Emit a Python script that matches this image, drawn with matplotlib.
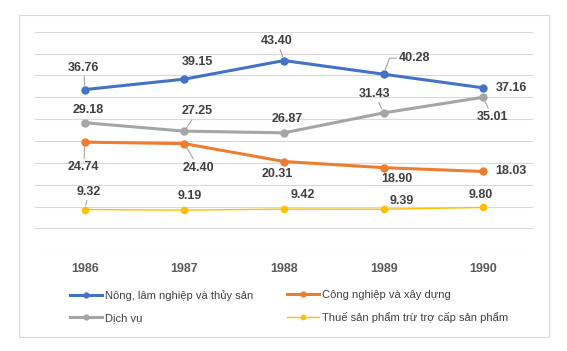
import matplotlib
matplotlib.use("Agg")
import matplotlib.pyplot as plt
from matplotlib.patches import Rectangle

years = ["1986", "1987", "1988", "1989", "1990"]
nong_lam = [36.76, 39.15, 43.40, 40.28, 37.16]
cong_nghiep = [24.74, 24.40, 20.31, 18.90, 18.03]
dich_vu = [29.18, 27.25, 26.87, 31.43, 35.01]
thue = [9.32, 9.19, 9.42, 9.39, 9.80]

names = ["Nông, lâm nghiệp và thủy sản", "Công nghiệp và xây dựng",
         "Dịch vụ", "Thuế sản phẩm trừ trợ cấp sản phẩm"]
colors = ["#4472C4", "#ED7D31", "#A5A5A5", "#FFC000"]

plt.rcParams['font.family'] = ['Liberation Sans', 'DejaVu Sans']

fig = plt.figure(figsize=(5.67, 3.51), dpi=100)
fig.patch.set_facecolor("white")
fig.patches.append(Rectangle((19/567, 1-337/351), (549-19)/567, (337-15)/351,
                             transform=fig.transFigure, fill=False,
                             edgecolor="#D9D9D9", linewidth=0.8))

ax = fig.add_axes([35/567, 100.7/351, 498/567, 218.6/351])
x = list(range(len(years)))

series = [nong_lam, cong_nghiep, dich_vu, thue]
lines = []
for vals, c, nm, i in zip(series, colors, names, range(4)):
    if i == 3:
        ln, = ax.plot(x, vals, color=c, lw=1.0, marker='o', ms=4.5, label=nm, zorder=3)
    else:
        ln, = ax.plot(x, vals, color=c, lw=2.2, marker='o', ms=5, label=nm, zorder=3)
    lines.append(ln)

# label offsets in pixels (dx, dy), leader style (None = no leader)
offsets = [
    [(-1, 22, 'arc3'), (13, 17, None), (-7, 20, 'arc3'),
     (31, 16, 'angle,angleA=0,angleB=70,rad=0'), (28, 0, None)],
    [(-1, -25, 'arc3'), (14, -24, 'arc3'), (-7, -12, None), (13, -11, None), (28, 0, None)],
    [(3, 13, None), (13, 20, 'arc3'), (3, 14, None), (-9, 19, 'arc3'), (9, -20, 'arc3')],
    [(4, 18, 'arc3'), (5, 14, None), (19, 14, None), (18, 8, None), (-2, 12, None)],
]
for vals, offs in zip(series, offsets):
    for xi, v, (dx, dy, lead) in zip(x, vals, offs):
        kw = {}
        if lead:
            kw['arrowprops'] = dict(arrowstyle='-', color='#A6A6A6', lw=0.8,
                                    shrinkA=0, shrinkB=3, connectionstyle=lead)
        ax.annotate(f"{v:.2f}", (xi, v), xytext=(dx, dy), textcoords='offset pixels',
                    ha='center', va='center', fontsize=9, fontweight='bold',
                    color='#404040', zorder=4, **kw)

ax.set_xlim(-0.5, 4.5)
ax.set_ylim(0, 50)
ax.set_yticks(range(0, 51, 5))
ax.set_yticklabels([])
ax.set_xticks(x)
ax.set_xticklabels(years, fontsize=9, fontweight='bold', color='#595959')
ax.tick_params(axis='both', length=0)
ax.tick_params(axis='x', pad=9)
ax.grid(axis='y', color='#D9D9D9', lw=0.8)
ax.set_axisbelow(True)
for s in ax.spines.values():
    s.set_visible(False)

leg_kw = dict(loc='upper left', frameon=False, fontsize=8, labelcolor='#404040',
              handlelength=2.9, handletextpad=0.25, labelspacing=1.1,
              borderpad=0, borderaxespad=0, markerscale=0.7)
col1 = [lines[0], lines[2]]
col2 = [lines[1], lines[3]]
fig.legend(col1, [l.get_label() for l in col1],
           bbox_to_anchor=(70/567, 1-290/351), **leg_kw)
fig.legend(col2, [l.get_label() for l in col2],
           bbox_to_anchor=(287/567, 1-290/351), **leg_kw)

fig.savefig("out.png", dpi=100)
